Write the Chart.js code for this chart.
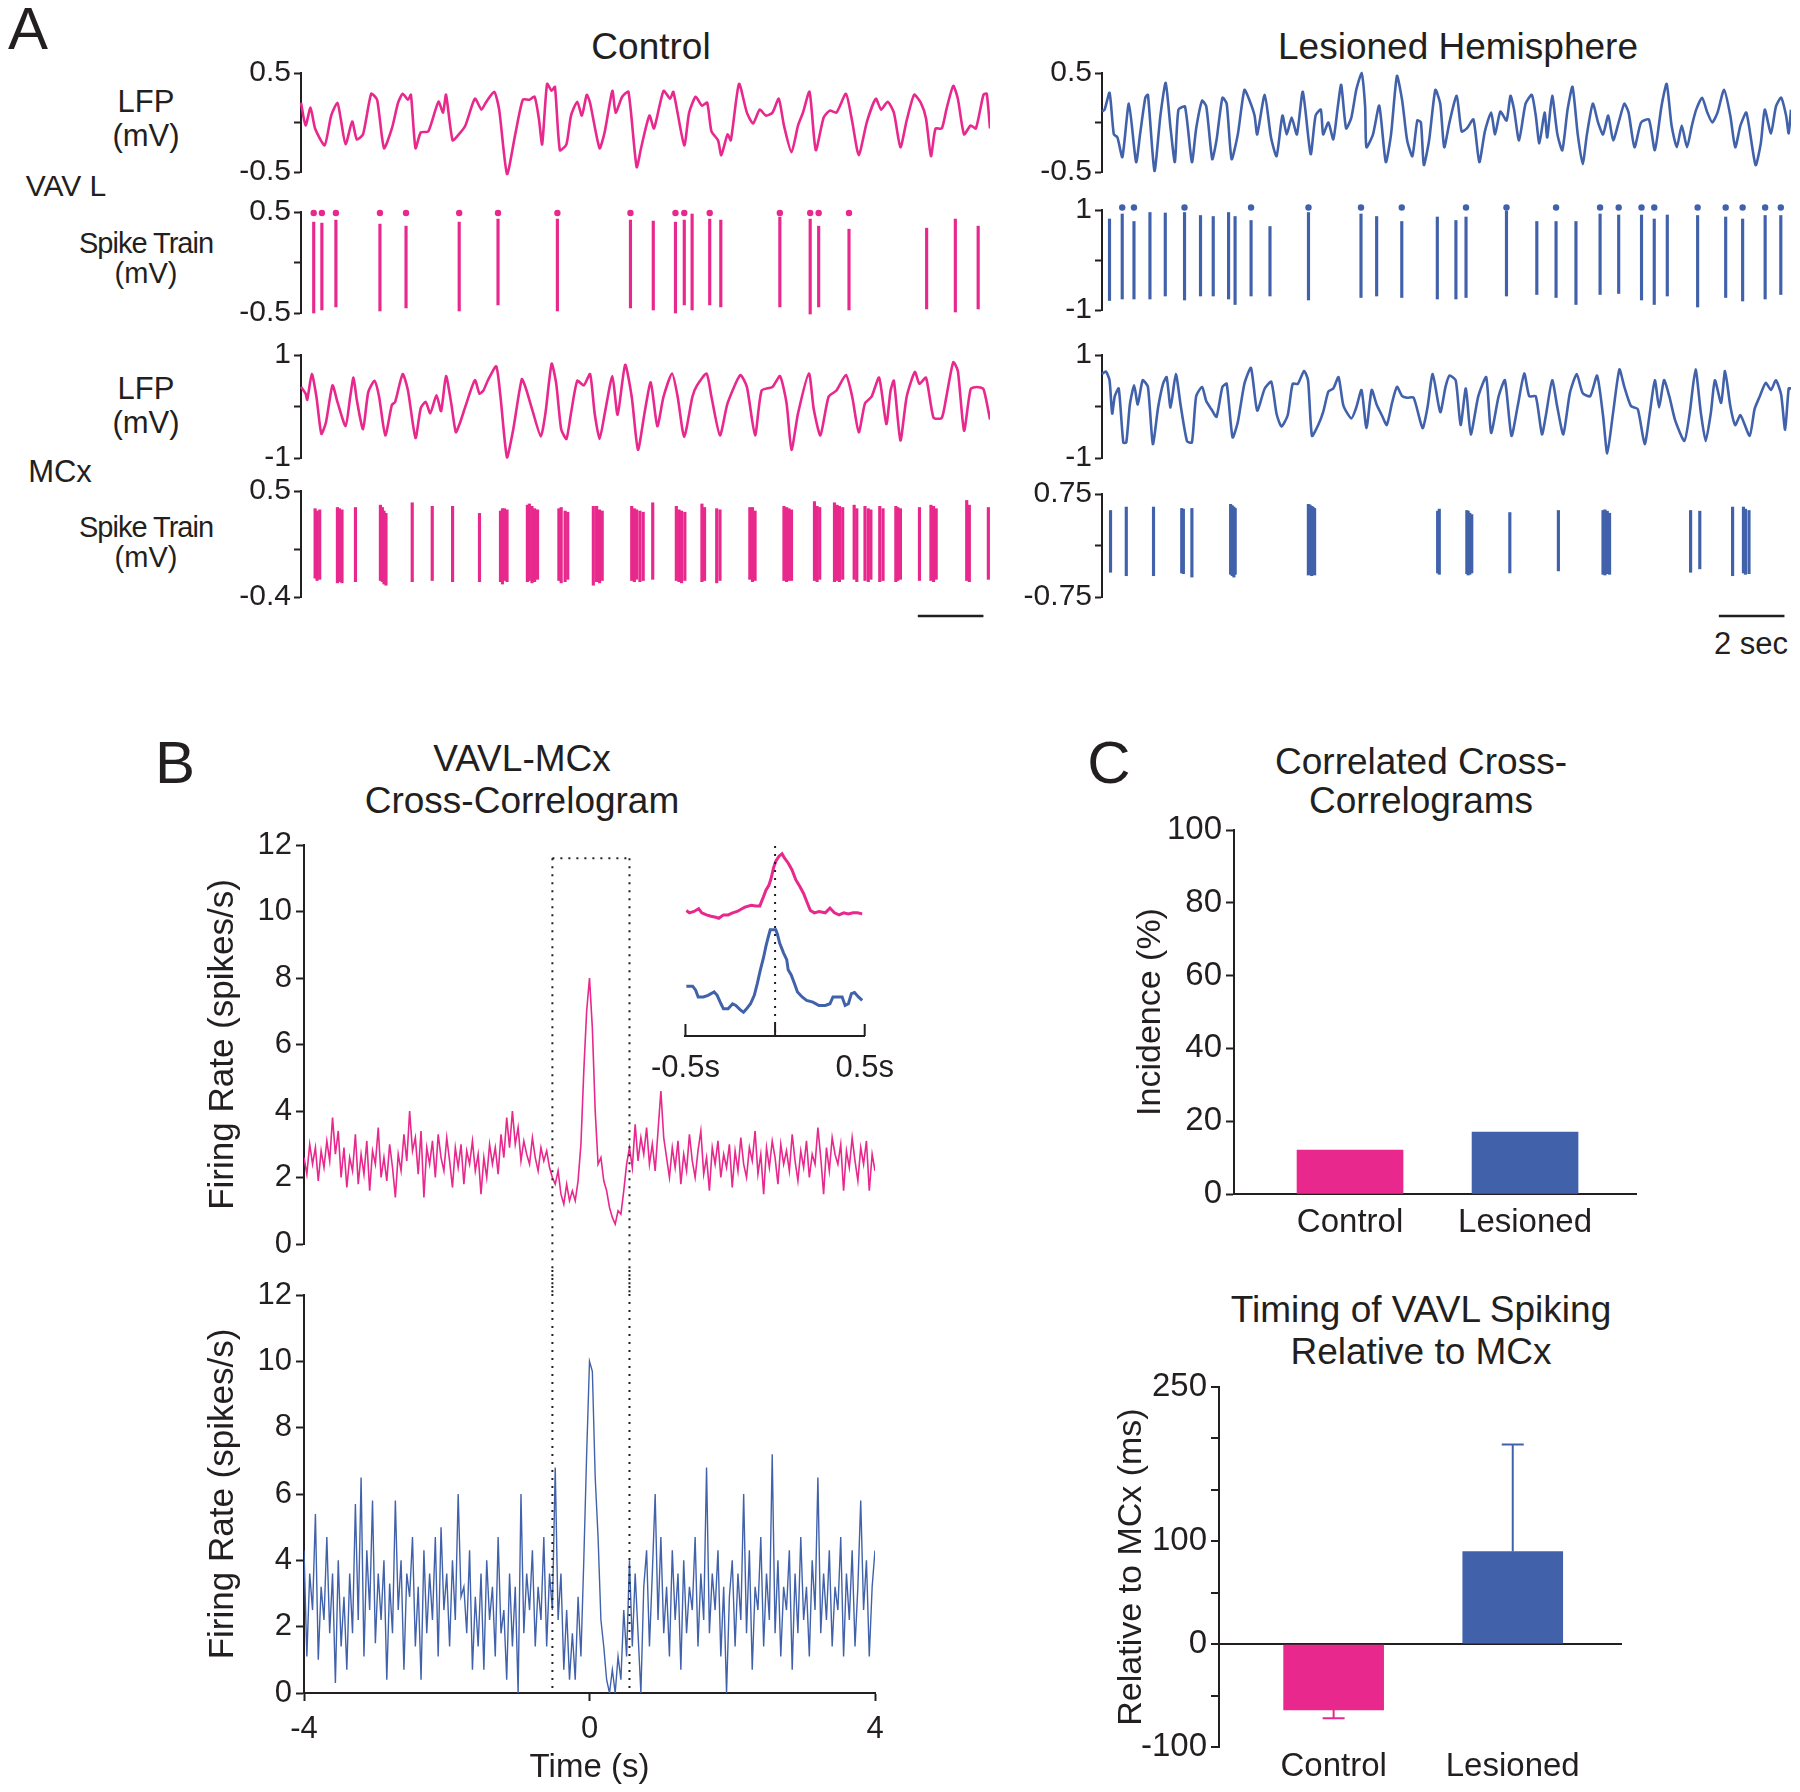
<!DOCTYPE html>
<html>
<head>
<meta charset="utf-8">
<script src="https://cdn.jsdelivr.net/npm/chart.js@4.4.1/dist/chart.umd.min.js"></script>
<style>
body { margin:0; width:1800px; height:1792px; background:#fff; position:relative; overflow:hidden;
       font-family:"Liberation Sans", Arial, sans-serif; color:#231f20; }
.t { position:absolute; transform:translate(-50%,-50%); line-height:1; white-space:nowrap; }
canvas { position:absolute; }
</style>
</head>
<body>
<!-- panel A text -->
<div class="t" style="left:28px;top:29px;font-size:60px">A</div>
<div class="t" style="left:651px;top:46px;font-size:37px">Control</div>
<div class="t" style="left:1458px;top:46px;font-size:37px">Lesioned Hemisphere</div>
<div class="t" style="left:146px;top:101px;font-size:31px">LFP</div>
<div class="t" style="left:146px;top:135px;font-size:31px">(mV)</div>
<div class="t" style="left:66px;top:186px;font-size:30px">VAV L</div>
<div class="t" style="left:146px;top:243px;font-size:29px;letter-spacing:-1px">Spike Train</div>
<div class="t" style="left:146px;top:273px;font-size:29px">(mV)</div>
<div class="t" style="left:146px;top:388px;font-size:31px">LFP</div>
<div class="t" style="left:146px;top:422px;font-size:31px">(mV)</div>
<div class="t" style="left:60px;top:471px;font-size:31px">MCx</div>
<div class="t" style="left:146px;top:527px;font-size:29px;letter-spacing:-1px">Spike Train</div>
<div class="t" style="left:146px;top:557px;font-size:29px">(mV)</div>
<div class="t" style="left:1751px;top:643px;font-size:31px">2 sec</div>
<!-- panel B text -->
<div class="t" style="left:175px;top:763px;font-size:60px">B</div>
<div class="t" style="left:522px;top:758px;font-size:37px">VAVL-MCx</div>
<div class="t" style="left:522px;top:800px;font-size:37px">Cross-Correlogram</div>
<!-- panel C text -->
<div class="t" style="left:1109px;top:763px;font-size:60px">C</div>
<div class="t" style="left:1421px;top:761px;font-size:37px">Correlated Cross-</div>
<div class="t" style="left:1421px;top:800px;font-size:37px">Correlograms</div>
<div class="t" style="left:1421px;top:1309px;font-size:37px">Timing of VAVL Spiking</div>
<div class="t" style="left:1421px;top:1351px;font-size:37px">Relative to MCx</div>

<script>
// ===== DATA =====
// Panel A: traces, [time (s), mV]
const ctlVavlLfp = [[0,0.20],[0.14,-0.03],[0.29,0.15],[0.43,-0.06],[0.72,-0.23],[0.92,0.07],[1.11,0.20],[1.21,0.04],[1.36,-0.22],[1.56,0.01],[1.70,-0.17],[1.89,-0.12],[2.14,0.29],[2.32,0.23],[2.53,-0.26],[2.77,-0.06],[2.96,0.20],[3.10,0.29],[3.26,0.23],[3.35,0.28],[3.49,-0.26],[3.65,-0.10],[3.88,-0.09],[4.19,0.21],[4.33,0.10],[4.42,0.28],[4.62,-0.18],[4.81,-0.12],[5.01,-0.03],[5.30,0.24],[5.50,0.13],[5.63,0.20],[5.89,0.31],[6.04,0.13],[6.28,-0.52],[6.53,-0.12],[6.76,0.23],[6.96,0.23],[7.12,0.26],[7.25,0.04],[7.35,-0.22],[7.50,0.39],[7.64,0.32],[7.74,0.36],[7.89,-0.28],[8.09,-0.22],[8.23,0.07],[8.42,0.21],[8.56,0.07],[8.71,0.28],[8.81,0.20],[9.10,-0.26],[9.26,-0.09],[9.49,0.32],[9.59,0.10],[9.79,0.26],[9.98,0.31],[10.23,-0.45],[10.37,-0.25],[10.62,0.07],[10.76,-0.06],[11.05,0.32],[11.25,0.24],[11.35,0.31],[11.68,-0.23],[11.83,0.10],[12.03,0.26],[12.22,0.17],[12.38,0.20],[12.51,-0.09],[12.71,-0.18],[12.81,-0.33],[13.00,-0.12],[13.10,-0.18],[13.35,0.39],[13.59,0.10],[13.78,-0.01],[13.98,0.13],[14.17,0.07],[14.37,0.10],[14.56,0.24],[14.72,-0.03],[14.95,-0.30],[15.15,-0.03],[15.30,0.10],[15.50,0.31],[15.69,-0.28],[15.93,0.05],[16.12,0.12],[16.32,0.10],[16.61,0.29],[16.80,0.01],[17.00,-0.33],[17.25,0.01],[17.52,0.24],[17.68,0.13],[17.88,0.21],[18.07,0.10],[18.27,-0.25],[18.46,0.02],[18.69,0.28],[18.89,0.20],[19.05,0.04],[19.20,-0.34],[19.34,-0.06],[19.53,-0.06],[19.67,0.13],[19.88,0.37],[20.02,0.24],[20.21,-0.12],[20.41,-0.03],[20.57,-0.06],[20.80,0.28],[20.90,0.29],[21.00,-0.06]];

// spikes: [time, peak, trough]
const ctlVavlSpikes = [[0.39,0.40,-0.50],[0.64,0.39,-0.47],[1.07,0.42,-0.44],[2.42,0.38,-0.48],[3.22,0.36,-0.45],[4.85,0.40,-0.48],[6.04,0.43,-0.42],[7.86,0.43,-0.48],[10.10,0.42,-0.45],[10.80,0.41,-0.47],[11.48,0.40,-0.50],[11.75,0.42,-0.42],[11.99,0.48,-0.47],[12.53,0.43,-0.42],[12.87,0.42,-0.44],[14.68,0.45,-0.44],[15.61,0.43,-0.51],[15.87,0.36,-0.44],[16.80,0.33,-0.47],[19.18,0.34,-0.46],[20.06,0.43,-0.49],[20.76,0.36,-0.46]];
const ctlVavlDots = [0.39,0.64,1.07,2.42,3.22,4.85,6.04,7.86,10.10,11.48,11.75,12.53,14.68,15.61,15.87,16.80];
const ctlDotLevel = 0.49;

const ctlMcxLfp = [[0,0.38],[0.14,0.25],[0.19,0.13],[0.33,0.63],[0.47,0.19],[0.62,-0.53],[0.76,-0.31],[0.96,0.41],[1.11,0.09],[1.36,-0.38],[1.50,0.19],[1.60,0.56],[1.70,0.13],[1.89,-0.44],[2.05,0.28],[2.24,0.50],[2.38,0.19],[2.57,-0.56],[2.77,0.03],[2.87,0.09],[3.10,0.63],[3.26,0.31],[3.49,-0.61],[3.65,-0.03],[3.80,0.09],[3.94,-0.13],[4.13,0.22],[4.27,-0.09],[4.42,0.59],[4.58,0.06],[4.72,-0.50],[4.85,-0.31],[5.01,0],[5.30,0.51],[5.44,0.25],[5.56,0.31],[5.69,0.50],[5.95,0.78],[6.08,0.19],[6.28,-0.99],[6.47,-0.44],[6.73,0.53],[6.86,0.34],[7.06,-0.09],[7.31,-0.58],[7.45,-0.13],[7.64,0.83],[7.78,0.44],[7.93,-0.44],[8.09,-0.63],[8.23,-0.13],[8.42,0.50],[8.62,0.41],[8.81,0.63],[8.95,-0.13],[9.10,-0.63],[9.26,-0.13],[9.49,0.59],[9.65,-0.16],[9.88,0.81],[10.08,0.19],[10.27,-0.84],[10.47,-0.13],[10.66,0.47],[10.86,-0.38],[11.05,0.19],[11.31,0.64],[11.48,0.19],[11.68,-0.59],[11.93,0.19],[12.07,0.41],[12.36,0.64],[12.51,0.19],[12.77,-0.56],[13.00,0.06],[13.39,0.61],[13.59,0.38],[13.84,-0.56],[14.04,0.31],[14.37,0.38],[14.60,0.59],[14.80,0.06],[14.95,-0.84],[15.15,-0.13],[15.48,0.64],[15.63,-0.06],[15.83,-0.56],[16.08,0.19],[16.32,0.31],[16.61,0.61],[16.80,0.19],[17.00,-0.50],[17.19,0.06],[17.39,0.19],[17.62,0.56],[17.84,-0.34],[17.97,0.31],[18.07,0.50],[18.27,-0.66],[18.46,0.19],[18.71,0.67],[18.85,0.44],[19.05,0.56],[19.28,-0.22],[19.53,-0.22],[19.67,0.19],[19.88,0.86],[20.02,0.69],[20.21,-0.47],[20.41,0.34],[20.60,0.38],[20.80,0.34],[21.00,-0.25]];

const ctlMcxSpikes = [[0.43,0.35,-0.24],[0.49,0.33,-0.26],[0.57,0.34,-0.25],[1.11,0.36,-0.28],[1.17,0.35,-0.27],[1.25,0.34,-0.28],[1.66,0.36,-0.27],[2.42,0.38,-0.26],[2.48,0.36,-0.27],[2.53,0.33,-0.29],[2.59,0.31,-0.30],[3.39,0.40,-0.27],[4.00,0.37,-0.26],[4.62,0.37,-0.27],[5.44,0.31,-0.27],[6.08,0.33,-0.27],[6.14,0.35,-0.29],[6.20,0.35,-0.26],[6.28,0.34,-0.27],[6.90,0.38,-0.27],[6.96,0.39,-0.26],[7.04,0.37,-0.28],[7.12,0.35,-0.27],[7.21,0.34,-0.25],[7.86,0.35,-0.26],[7.93,0.36,-0.28],[8.05,0.33,-0.27],[8.13,0.32,-0.25],[8.91,0.37,-0.30],[9.01,0.37,-0.27],[9.10,0.34,-0.28],[9.18,0.33,-0.26],[10.08,0.37,-0.26],[10.16,0.35,-0.27],[10.23,0.34,-0.25],[10.33,0.33,-0.27],[10.43,0.32,-0.26],[10.72,0.40,-0.25],[11.44,0.37,-0.26],[11.52,0.34,-0.27],[11.60,0.33,-0.28],[11.70,0.32,-0.26],[12.22,0.39,-0.27],[12.30,0.36,-0.26],[12.67,0.35,-0.28],[12.77,0.34,-0.26],[13.68,0.36,-0.25],[13.76,0.36,-0.27],[13.84,0.33,-0.26],[14.72,0.37,-0.26],[14.80,0.36,-0.27],[14.87,0.35,-0.26],[14.95,0.34,-0.26],[15.65,0.41,-0.26],[15.73,0.37,-0.27],[15.81,0.36,-0.25],[16.26,0.40,-0.27],[16.34,0.38,-0.26],[16.41,0.37,-0.27],[16.51,0.36,-0.25],[16.86,0.38,-0.25],[16.94,0.35,-0.27],[17.19,0.37,-0.26],[17.29,0.35,-0.27],[17.37,0.34,-0.25],[17.64,0.37,-0.27],[17.74,0.35,-0.26],[18.13,0.37,-0.27],[18.19,0.36,-0.26],[18.27,0.35,-0.25],[18.85,0.36,-0.26],[19.20,0.38,-0.26],[19.28,0.37,-0.27],[19.36,0.35,-0.25],[20.29,0.42,-0.26],[20.37,0.38,-0.27],[20.95,0.36,-0.25]];

const lesVavlLfp = [[0,0.11],[0.08,0.13],[0.23,0.30],[0.36,-0.12],[0.47,-0.15],[0.62,-0.35],[0.82,0.19],[1.04,-0.40],[1.16,-0.12],[1.32,0.25],[1.40,0.28],[1.60,-0.49],[1.78,0.07],[1.94,0.40],[2.09,-0.06],[2.22,-0.40],[2.33,0.13],[2.53,0.16],[2.74,-0.40],[2.87,-0.06],[3.05,0.22],[3.18,0.16],[3.36,-0.37],[3.49,-0.18],[3.67,0.25],[3.80,0.19],[3.95,-0.37],[4.14,-0.12],[4.34,0.33],[4.50,0.22],[4.65,0.07],[4.73,-0.12],[4.96,0.28],[5.15,-0.15],[5.32,-0.34],[5.50,0.07],[5.63,-0.12],[5.78,0.05],[5.94,-0.12],[6.12,0.31],[6.36,-0.32],[6.51,0.07],[6.67,0.13],[6.74,-0.12],[6.90,0.00],[7.05,-0.17],[7.18,0.14],[7.29,0.38],[7.44,-0.06],[7.60,0.05],[7.75,0.33],[7.91,0.50],[8.02,0.16],[8.06,-0.25],[8.26,-0.12],[8.45,0.17],[8.65,-0.40],[8.81,-0.12],[8.99,0.47],[9.15,0.22],[9.30,-0.18],[9.46,-0.34],[9.61,0.02],[9.72,0.00],[9.81,-0.43],[9.97,-0.18],[10.16,0.33],[10.31,0.19],[10.43,-0.25],[10.59,0.00],[10.81,0.27],[10.96,-0.09],[11.12,-0.06],[11.32,0.03],[11.50,-0.40],[11.67,-0.09],[11.86,0.10],[11.98,-0.12],[12.14,0.11],[12.33,0.02],[12.45,0.27],[12.56,0.13],[12.71,-0.18],[12.91,0.19],[13.10,0.28],[13.22,0.07],[13.33,-0.21],[13.49,0.10],[13.57,-0.15],[13.72,0.27],[13.88,-0.12],[14.03,-0.28],[14.19,0.13],[14.34,0.36],[14.50,-0.12],[14.65,-0.42],[14.78,-0.12],[14.96,0.19],[15.12,0.00],[15.27,-0.12],[15.43,0.07],[15.58,-0.18],[15.77,0.03],[15.92,0.19],[16.05,0.10],[16.23,-0.25],[16.43,0.00],[16.67,0.03],[16.85,-0.28],[17.05,0.16],[17.21,0.39],[17.36,-0.03],[17.52,-0.25],[17.67,-0.03],[17.83,-0.25],[17.98,-0.03],[18.11,0.13],[18.29,0.25],[18.45,0.10],[18.60,0.00],[18.76,0.10],[18.96,0.33],[19.15,0.07],[19.30,-0.25],[19.46,-0.03],[19.64,0.10],[19.92,-0.43],[20.08,-0.21],[20.20,0.13],[20.39,-0.11],[20.54,0.16],[20.70,0.25],[20.85,0.07],[20.93,-0.11],[21.00,0.13]];

const lesVavlSpikes = [[0.23,0.82,-0.81],[0.62,0.92,-0.78],[0.98,0.77,-0.78],[1.47,0.95,-0.78],[1.94,0.94,-0.72],[2.53,0.95,-0.80],[3.02,0.89,-0.72],[3.41,0.87,-0.72],[3.88,0.95,-0.78],[4.08,0.87,-0.89],[4.57,0.79,-0.72],[5.15,0.67,-0.72],[6.33,0.95,-0.80],[7.94,0.92,-0.75],[8.42,0.87,-0.72],[9.19,0.77,-0.75],[10.28,0.86,-0.78],[10.85,0.79,-0.78],[11.16,0.86,-0.75],[12.40,0.98,-0.72],[13.33,0.77,-0.69],[13.92,0.77,-0.75],[14.53,0.77,-0.89],[15.27,0.92,-0.69],[15.84,0.90,-0.67],[16.54,0.90,-0.80],[16.93,0.82,-0.89],[17.33,0.90,-0.72],[18.26,0.89,-0.94],[19.12,0.86,-0.75],[19.64,0.82,-0.82],[20.33,0.89,-0.78],[20.81,0.89,-0.69]];
const lesVavlDots = [0.62,0.98,2.53,4.57,6.33,7.94,9.19,11.16,12.40,13.92,15.27,15.84,16.54,16.93,18.26,19.12,19.64,20.33,20.81];
const lesDotLevel = 1.05;

const lesMcxLfp = [[0,0.63],[0.12,0.68],[0.23,0.51],[0.31,-0.14],[0.39,0.20],[0.51,0.35],[0.65,-0.70],[0.74,-0.70],[0.85,0.04],[0.98,0.41],[1.09,0.04],[1.24,0.51],[1.40,0.38],[1.55,-0.73],[1.71,-0.02],[1.86,0.44],[1.97,0.57],[2.09,-0.02],[2.25,0.63],[2.40,0.01],[2.59,-0.67],[2.74,-0.70],[2.87,0.20],[3.05,0.38],[3.18,0.10],[3.33,-0.05],[3.49,-0.20],[3.67,0.38],[3.80,0.44],[3.98,-0.60],[4.14,-0.30],[4.34,0.44],[4.54,0.75],[4.73,-0.08],[4.96,0.35],[5.16,0.48],[5.32,-0.14],[5.47,-0.39],[5.66,-0.17],[5.81,0.44],[5.97,0.44],[6.16,0.69],[6.28,0.51],[6.40,-0.57],[6.59,-0.36],[6.74,-0.11],[6.90,0.29],[7.05,0.35],[7.21,0.57],[7.36,0.01],[7.60,-0.23],[7.75,-0.02],[7.91,0.32],[8.06,-0.42],[8.22,0.32],[8.37,0.04],[8.53,-0.17],[8.68,-0.36],[8.84,0.07],[8.99,0.38],[9.15,0.20],[9.30,0.17],[9.50,0.17],[9.77,-0.42],[9.92,-0.02],[10.08,0.63],[10.31,-0.11],[10.47,0.38],[10.59,0.60],[10.78,0.51],[10.93,-0.36],[11.09,0.35],[11.24,-0.54],[11.47,0.20],[11.71,0.57],[11.86,-0.51],[12.09,0.20],[12.28,0.51],[12.48,-0.57],[12.67,0.01],[12.87,0.64],[13.02,0.20],[13.22,0.20],[13.41,-0.54],[13.53,-0.17],[13.72,0.51],[13.88,-0.02],[14.06,-0.54],[14.26,0.26],[14.47,0.63],[14.65,0.26],[14.88,0.20],[15.09,0.60],[15.27,-0.17],[15.40,-0.91],[15.58,-0.11],[15.77,0.72],[15.92,0.38],[16.12,0.01],[16.33,-0.05],[16.54,-0.73],[16.70,-0.11],[16.85,0.51],[16.98,-0.02],[17.13,0.51],[17.29,0.20],[17.47,-0.27],[17.75,-0.67],[17.91,-0.14],[18.09,0.72],[18.25,-0.11],[18.40,-0.67],[18.56,-0.11],[18.68,0.51],[18.87,0.07],[18.99,0.69],[19.15,0.01],[19.30,-0.36],[19.46,-0.17],[19.74,-0.57],[19.89,-0.05],[20.05,0.20],[20.23,0.46],[20.39,0.32],[20.54,0.51],[20.70,0.23],[20.82,-0.45],[20.93,0.35],[21.00,0.35]];

const lesMcxSpikes = [[0.26,0.51,-0.39],[0.74,0.56,-0.44],[1.57,0.56,-0.44],[2.43,0.54,-0.40],[2.48,0.53,-0.41],[2.74,0.54,-0.46],[3.92,0.60,-0.42],[3.97,0.58,-0.44],[4.02,0.56,-0.46],[4.06,0.54,-0.42],[6.29,0.60,-0.43],[6.34,0.59,-0.42],[6.39,0.57,-0.44],[6.43,0.56,-0.41],[6.48,0.54,-0.43],[10.23,0.50,-0.40],[10.28,0.53,-0.42],[11.12,0.51,-0.41],[11.16,0.50,-0.43],[11.21,0.47,-0.42],[11.27,0.45,-0.40],[12.43,0.48,-0.40],[13.91,0.51,-0.37],[15.27,0.51,-0.42],[15.33,0.52,-0.43],[15.40,0.50,-0.41],[15.47,0.47,-0.42],[17.94,0.51,-0.39],[18.22,0.50,-0.34],[19.22,0.56,-0.44],[19.55,0.56,-0.40],[19.61,0.53,-0.42],[19.72,0.51,-0.41]];

const recordLength = 21;     // s shown in each trace
const scaleBarSec = 2;

// Panel B: cross-correlograms, firing rate (spikes/s) in 40 ms bins from -4 s
const ccgStart = -4, ccgBin = 0.04;
const ctlCcg = [
  2.6,2.1,3.0,2.4,2.9,1.9,2.8,2.3,3.1,2.5,
  3.8,2.7,3.4,2.0,2.9,1.7,2.6,2.2,3.3,1.8,
  2.7,2.1,3.1,1.6,2.8,2.4,3.5,2.0,2.6,1.9,
  3.0,2.3,1.4,2.7,2.2,3.3,2.5,4.0,2.8,3.2,
  2.1,3.4,1.4,2.9,2.4,3.1,2.0,3.3,2.6,2.2,
  3.2,2.5,1.7,2.9,2.3,3.0,1.8,2.8,2.4,3.1,
  2.2,2.7,1.5,2.6,2.0,3.0,2.4,2.9,2.1,3.3,
  2.6,3.8,2.9,4.0,3.0,3.5,2.5,3.1,2.7,2.4,
  3.2,2.6,2.2,2.9,2.5,2.8,2.3,2.0,1.8,2.2,
  1.5,1.2,1.8,1.3,1.6,1.3,1.9,3.0,5.2,7.0,
  8.0,6.5,4.0,2.4,2.6,1.9,1.6,1.1,0.8,0.6,
  1.0,0.9,1.6,2.4,2.9,2.3,3.6,2.5,3.2,2.7,
  3.5,2.4,3.0,2.2,3.4,4.6,3.2,2.6,2.0,2.9,
  2.3,3.1,1.8,2.7,2.2,3.3,2.5,2.0,2.8,3.4,
  2.1,2.6,1.6,2.9,2.4,3.1,2.0,2.7,2.3,3.0,
  1.7,2.8,2.2,3.2,2.4,2.0,2.9,2.5,3.4,2.1,
  2.7,1.5,2.9,2.3,3.1,2.6,1.8,3.0,2.4,2.8,
  2.2,3.3,2.5,1.9,2.8,2.3,3.1,2.0,2.7,2.4,
  3.5,2.6,1.5,2.9,2.2,3.2,2.7,2.4,3.0,1.6,
  2.8,2.3,3.2,2.5,1.9,2.9,2.4,3.1,1.6,2.7,2.2];
const lesCcg = [
  4.3,1.1,3.6,2.5,5.4,1.0,3.2,2.2,4.7,1.8,
  3.6,0.3,4.0,1.4,2.9,0.7,3.6,1.8,5.7,2.2,
  6.5,1.1,4.3,2.5,5.8,1.5,3.6,2.2,4.0,0.4,
  3.3,1.8,5.8,2.5,4.0,0.7,3.6,2.9,4.7,1.4,
  3.2,0.4,4.3,1.8,3.6,2.2,4.7,1.1,5.0,2.5,
  3.6,1.4,4.0,2.2,6.0,2.9,3.2,1.8,4.3,0.7,
  2.9,1.4,3.6,0.7,4.0,2.2,3.2,1.1,4.7,1.8,
  2.5,0.4,3.6,1.4,3.2,0.0,6.0,1.8,3.6,2.5,
  4.3,1.4,3.2,2.2,4.7,1.4,3.6,2.5,6.8,2.2,
  3.6,0.7,2.5,0.4,1.8,0.4,2.9,1.1,4.0,7.2,
  10.0,9.7,6.5,4.7,2.2,1.4,0.4,0.0,0.7,0.0,
  1.1,0.4,2.5,1.1,4.0,1.4,3.6,1.8,0.0,3.2,
  4.3,1.4,3.6,6.0,2.2,4.7,1.8,3.2,1.1,4.3,
  2.2,3.6,0.7,4.0,1.8,3.2,2.5,4.7,1.4,3.6,
  2.2,6.8,1.8,3.6,2.5,4.3,1.1,3.2,0.0,2.9,
  4.0,1.4,3.6,2.2,6.0,1.8,4.3,0.7,3.2,2.5,
  4.7,1.4,3.6,2.2,7.2,1.8,4.0,1.1,3.2,2.5,
  4.3,0.7,3.6,1.8,4.7,2.2,3.2,1.1,4.0,2.5,
  6.5,1.8,3.6,2.2,4.3,1.4,3.2,2.5,4.7,1.1,
  3.6,2.2,4.3,1.4,3.2,5.8,2.5,4.0,1.1,3.2,4.3];
const boxEdges = [-0.52, 0.56];   // s, dotted window
const boxTop = 11.6;

// inset: smoothed correlograms over -0.5..0.5 s, [time, arbitrary units]
const insetCtl = [[-0.495,3.70],[-0.478,3.63],[-0.452,3.67],[-0.426,3.75],[-0.409,3.63],[-0.383,3.57],[-0.357,3.53],[-0.331,3.50],[-0.314,3.47],[-0.288,3.57],[-0.262,3.57],[-0.237,3.63],[-0.211,3.67],[-0.185,3.75],[-0.168,3.80],[-0.133,3.85],[-0.108,3.83],[-0.085,3.83],[-0.078,3.93],[-0.065,4.10],[-0.051,4.30],[-0.034,4.45],[-0.022,4.65],[-0.009,4.95],[0.004,5.15],[0.022,5.30],[0.039,5.37],[0.052,5.25],[0.073,5.10],[0.094,4.90],[0.116,4.60],[0.139,4.40],[0.159,4.20],[0.176,3.97],[0.197,3.70],[0.219,3.63],[0.245,3.67],[0.280,3.63],[0.306,3.77],[0.331,3.63],[0.357,3.57],[0.383,3.63],[0.409,3.60],[0.435,3.63],[0.460,3.63],[0.486,3.60]];
const insetLes = [[-0.495,1.47],[-0.460,1.47],[-0.443,1.35],[-0.429,1.15],[-0.400,1.15],[-0.374,1.20],[-0.340,1.30],[-0.323,1.20],[-0.302,0.95],[-0.288,0.80],[-0.262,0.80],[-0.237,0.95],[-0.219,0.90],[-0.194,0.77],[-0.176,0.70],[-0.159,0.80],[-0.137,0.95],[-0.116,1.20],[-0.099,1.55],[-0.082,1.95],[-0.065,2.30],[-0.051,2.65],[-0.039,2.90],[-0.027,3.13],[0.004,3.13],[0.013,3.00],[0.025,2.75],[0.047,2.45],[0.065,2.25],[0.073,1.95],[0.090,1.80],[0.108,1.55],[0.125,1.30],[0.151,1.15],[0.176,1.05],[0.211,1.00],[0.245,0.90],[0.280,0.90],[0.306,0.95],[0.323,1.15],[0.349,1.15],[0.374,1.15],[0.391,0.90],[0.409,0.95],[0.426,1.25],[0.443,1.28],[0.465,1.15],[0.486,1.05]];

// Panel C
const groups = ['Control', 'Lesioned'];
const incidence = [12.1, 17.0];       // %
const timingMean = [-64, 90];          // ms
const timingSem = [8, 104];

// ===== STYLE =====
const PINK = '#E8288C';
const BLUE = '#4162AB';
const INK = '#231F20';
Chart.defaults.font.family = '"Liberation Sans", Arial, sans-serif';
Chart.defaults.color = INK;
Chart.defaults.animation = false;

function place(id, left, top, width, height) {
    const c = document.createElement('canvas');
    c.id = id;
    c.width = width;
    c.height = height;
    c.style.left = left + 'px';
    c.style.top = top + 'px';
    c.style.width = width + 'px';
    c.style.height = height + 'px';
    document.body.appendChild(c);
    return c.getContext('2d');
}

const pts = arr => arr.map(p => ({ x: p[0], y: p[1] }));

// ===== PANEL A =====
const AXIS_W = 85, PAD = 22, TRACE_W = 689;

function lfpSet(arr, color) {
    return { type: 'line', data: pts(arr), borderColor: color, borderWidth: 2.6,
             pointRadius: 0, tension: 0.2, clip: false };
}
function spikeSet(arr, color) {
    return { type: 'bar', data: arr.map(s => ({ x: s[0], y: [s[2], s[1]] })),
             backgroundColor: color, barThickness: 2.5, grouped: false, clip: false };
}
function dotSet(times, level, color) {
    return { type: 'line', showLine: false, data: times.map(t => ({ x: t, y: level })),
             pointRadius: 3.2, pointBackgroundColor: color, pointBorderWidth: 0, clip: false };
}

const scaleBar = {
    id: 'scaleBar',
    afterDraw(chart) {
        if (!chart.options.plugins.scaleBar.show) return;
        const { ctx, chartArea, scales: { x } } = chart;
        const y = chartArea.bottom + 19;
        ctx.save();
        ctx.strokeStyle = INK;
        ctx.lineWidth = 2.5;
        ctx.beginPath();
        ctx.moveTo(x.getPixelForValue(recordLength - 0.2 - scaleBarSec), y);
        ctx.lineTo(x.getPixelForValue(recordLength - 0.2), y);
        ctx.stroke();
        ctx.restore();
    }
};

function traceChart(id, axisX, yTop, yBottom, yMin, yMax, datasets, withBar) {
    const padBottom = withBar ? 32 : PAD;
    const ctx = place(id, axisX - AXIS_W, yTop - PAD, AXIS_W + TRACE_W, yBottom - yTop + PAD + padBottom);
    return new Chart(ctx, {
        type: 'line',
        data: { datasets },
        options: {
            responsive: false,
            animation: false,
            layout: { padding: { top: PAD, bottom: padBottom, left: 0, right: 0 } },
            plugins: { legend: { display: false }, tooltip: { enabled: false }, scaleBar: { show: !!withBar } },
            scales: {
                x: { type: 'linear', min: 0, max: recordLength, offset: false, display: false },
                y: {
                    min: yMin, max: yMax,
                    afterBuildTicks: s => { s.ticks = [{ value: yMin }, { value: 0 }, { value: yMax }]; },
                    afterFit: s => { s.width = AXIS_W; },
                    ticks: { font: { size: 30 }, color: INK, padding: 3,
                             callback: v => v === 0 ? '' : String(v) },
                    grid: { drawOnChartArea: false, drawTicks: true, tickLength: 7, tickWidth: 2, tickColor: INK },
                    border: { display: true, color: INK, width: 2 }
                }
            }
        },
        plugins: [scaleBar]
    });
}

// left column (Control)
traceChart('a1', 301, 73, 172, -0.5, 0.5, [lfpSet(ctlVavlLfp, PINK)]);
traceChart('a2', 301, 212, 313, -0.5, 0.5, [spikeSet(ctlVavlSpikes, PINK), dotSet(ctlVavlDots, ctlDotLevel, PINK)]);
traceChart('a3', 301, 355, 458, -1, 1, [lfpSet(ctlMcxLfp, PINK)]);
traceChart('a4', 301, 491, 597, -0.4, 0.5, [spikeSet(ctlMcxSpikes, PINK)], true);
// right column (Lesioned)
traceChart('a5', 1102, 73, 172, -0.5, 0.5, [lfpSet(lesVavlLfp, BLUE)]);
traceChart('a6', 1102, 210, 310, -1, 1, [spikeSet(lesVavlSpikes, BLUE), dotSet(lesVavlDots, lesDotLevel, BLUE)]);
traceChart('a7', 1102, 355, 458, -1, 1, [lfpSet(lesMcxLfp, BLUE)]);
traceChart('a8', 1102, 494, 597, -0.75, 0.75, [spikeSet(lesMcxSpikes, BLUE)], true);

// ===== PANEL B =====
const ccgTimes = ctlCcg.map((_, i) => ccgStart + i * ccgBin);
const CCG_AXIS_W = 110, CCG_RIGHT = 30;

function dotted(fromTopValue, toZero) {
    return {
        id: 'dottedBox',
        afterDatasetsDraw(chart) {
            const { ctx, scales: { x, y } } = chart;
            const y0 = fromTopValue != null ? y.getPixelForValue(fromTopValue) : 0;
            const y1 = toZero ? y.getPixelForValue(0) : chart.height;
            ctx.save();
            ctx.strokeStyle = INK;
            ctx.lineWidth = 2;
            ctx.setLineDash([2, 6]);
            boxEdges.forEach(v => {
                const px = x.getPixelForValue(v);
                ctx.beginPath();
                ctx.moveTo(px, y0);
                ctx.lineTo(px, y1);
                ctx.stroke();
            });
            if (fromTopValue != null) {
                ctx.beginPath();
                ctx.moveTo(x.getPixelForValue(boxEdges[0]), y0);
                ctx.lineTo(x.getPixelForValue(boxEdges[1]), y0);
                ctx.stroke();
            }
            ctx.restore();
        }
    };
}

function ccgY() {
    return {
        min: 0, max: 12,
        afterFit: s => { s.width = CCG_AXIS_W; },
        ticks: { stepSize: 2, font: { size: 31 }, color: INK, padding: 4 },
        grid: { drawOnChartArea: false, tickLength: 8, tickWidth: 2, tickColor: INK },
        border: { display: true, color: INK, width: 2 },
        title: { display: true, text: 'Firing Rate (spikes/s)', font: { size: 35 }, color: INK,
                 padding: { top: 8, bottom: 0 } }
    };
}

new Chart(place('ccgTop', 304 - CCG_AXIS_W, 845 - 25, CCG_AXIS_W + 571 + CCG_RIGHT, 25 + 399 + 51), {
    type: 'line',
    data: { datasets: [{ data: ccgTimes.map((t, i) => ({ x: t, y: ctlCcg[i] })), borderColor: PINK,
                         borderWidth: 1.6, pointRadius: 0, tension: 0 }] },
    options: {
        responsive: false, animation: false,
        layout: { padding: { top: 25, bottom: 51, left: 0, right: CCG_RIGHT } },
        plugins: { legend: { display: false }, tooltip: { enabled: false } },
        scales: { x: { type: 'linear', min: -4, max: 4, display: false }, y: ccgY() }
    },
    plugins: [dotted(boxTop, false)]
});

new Chart(place('ccgBottom', 304 - CCG_AXIS_W, 1295 - 25, CCG_AXIS_W + 571 + CCG_RIGHT, 25 + 398 + 95), {
    type: 'line',
    data: { datasets: [{ data: ccgTimes.map((t, i) => ({ x: t, y: lesCcg[i] })), borderColor: BLUE,
                         borderWidth: 1.4, pointRadius: 0, tension: 0 }] },
    options: {
        responsive: false, animation: false,
        layout: { padding: { top: 25, bottom: 0, left: 0, right: CCG_RIGHT } },
        plugins: { legend: { display: false }, tooltip: { enabled: false } },
        scales: {
            x: {
                type: 'linear', min: -4, max: 4,
                afterBuildTicks: s => { s.ticks = [{ value: -4 }, { value: 0 }, { value: 4 }]; },
                afterFit: s => { s.height = 95; },
                ticks: { font: { size: 31 }, color: INK, padding: 10 },
                grid: { drawOnChartArea: false, tickLength: 8, tickWidth: 2, tickColor: INK },
                border: { display: true, color: INK, width: 2 },
                title: { display: true, text: 'Time (s)', font: { size: 33 }, color: INK, padding: { top: 0, bottom: 0 } }
            },
            y: ccgY()
        }
    },
    plugins: [dotted(null, true)]
});

// inset
const insetMarks = {
    id: 'insetMarks',
    afterDatasetsDraw(chart) {
        const { ctx, chartArea, scales: { x } } = chart;
        ctx.save();
        ctx.strokeStyle = INK;
        ctx.lineWidth = 2;
        x.ticks.forEach(t => {
            const px = x.getPixelForValue(t.value);
            ctx.beginPath();
            ctx.moveTo(px, chartArea.bottom);
            ctx.lineTo(px, chartArea.bottom - 12);
            ctx.stroke();
        });
        ctx.setLineDash([2, 6]);
        const p0 = x.getPixelForValue(0);
        ctx.beginPath();
        ctx.moveTo(p0, chartArea.top);
        ctx.lineTo(p0, chartArea.bottom);
        ctx.stroke();
        ctx.restore();
    }
};

new Chart(place('inset', 677 - 40, 846 - 10, 40 + 191 + 40, 10 + 190 + 50), {
    type: 'line',
    data: { datasets: [
        { data: pts(insetCtl), borderColor: PINK, borderWidth: 3, pointRadius: 0, tension: 0 },
        { data: pts(insetLes), borderColor: BLUE, borderWidth: 3, pointRadius: 0, tension: 0 }
    ] },
    options: {
        responsive: false, animation: false,
        layout: { padding: { top: 10, bottom: 0, left: 40, right: 40 } },
        plugins: { legend: { display: false }, tooltip: { enabled: false } },
        scales: {
            x: {
                type: 'linear', min: -0.5, max: 0.5,
                afterBuildTicks: s => { s.ticks = [{ value: -0.5 }, { value: 0 }, { value: 0.5 }]; },
                afterFit: s => { s.height = 50; },
                ticks: { font: { size: 31 }, color: INK, padding: 14, callback: v => v === 0 ? '' : v + 's' },
                grid: { display: false, drawTicks: false },
                border: { display: true, color: INK, width: 2 }
            },
            y: { min: 0, max: 5.6, display: false }
        }
    },
    plugins: [insetMarks]
});

// ===== PANEL C =====
const C_AXIS_W = 120;

function groupX(min, max, height, padding, showBorder) {
    return {
        type: 'linear', min, max, offset: false,
        afterBuildTicks: s => { s.ticks = groups.map((_, i) => ({ value: i })); },
        afterFit: s => { s.height = height; },
        ticks: { font: { size: 33 }, color: INK, padding, callback: v => groups[v] },
        grid: { display: false, drawTicks: false, offset: false },
        border: { display: showBorder, color: INK, width: 2 }
    };
}

new Chart(place('incidence', 1234 - C_AXIS_W, 830 - 25, C_AXIS_W + 402 + 10, 25 + 364 + 60), {
    type: 'bar',
    data: { datasets: [{ data: groups.map((g, i) => ({ x: i, y: incidence[i] })),
                         backgroundColor: [PINK, BLUE], barThickness: 106, grouped: false }] },
    options: {
        responsive: false, animation: false,
        layout: { padding: { top: 25, bottom: 0, left: 0, right: 10 } },
        plugins: { legend: { display: false }, tooltip: { enabled: false } },
        scales: {
            x: groupX(-0.663, 1.634, 60, 9, true),
            y: {
                min: 0, max: 100,
                afterFit: s => { s.width = C_AXIS_W; },
                ticks: { stepSize: 20, font: { size: 33 }, color: INK, padding: 4 },
                grid: { drawOnChartArea: false, tickLength: 8, tickWidth: 2, tickColor: INK },
                border: { display: true, color: INK, width: 2 },
                title: { display: true, text: 'Incidence (%)', font: { size: 34 }, color: INK,
                         padding: { top: 16, bottom: 0 } }
            }
        }
    }
});

const timingLabels = [250, 100, 0, -100];
const errorBars = {
    id: 'errorBars',
    afterDatasetsDraw(chart) {
        const meta = chart.getDatasetMeta(0);
        const y = chart.scales.y;
        const ctx = chart.ctx;
        const colors = [PINK, BLUE];
        ctx.save();
        ctx.lineWidth = 2;
        meta.data.forEach((bar, i) => {
            const m = timingMean[i];
            const end = y.getPixelForValue(m + Math.sign(m) * timingSem[i]);
            ctx.strokeStyle = colors[i];
            ctx.beginPath();
            ctx.moveTo(bar.x, y.getPixelForValue(m));
            ctx.lineTo(bar.x, end);
            ctx.moveTo(bar.x - 11, end);
            ctx.lineTo(bar.x + 11, end);
            ctx.stroke();
        });
        ctx.restore();
    }
};

new Chart(place('timing', 1219 - C_AXIS_W, 1387 - 25, C_AXIS_W + 403 + 10, 25 + 360 + 44), {
    type: 'bar',
    data: { datasets: [{ data: groups.map((g, i) => ({ x: i, y: timingMean[i] })),
                         backgroundColor: [PINK, BLUE], barThickness: 100, grouped: false }] },
    options: {
        responsive: false, animation: false,
        layout: { padding: { top: 25, bottom: 0, left: 0, right: 10 } },
        plugins: { legend: { display: false }, tooltip: { enabled: false } },
        scales: {
            x: groupX(-0.64, 1.61, 44, 0, false),
            y: {
                min: -100, max: 250,
                afterFit: s => { s.width = C_AXIS_W; },
                ticks: { stepSize: 50, font: { size: 33 }, color: INK, padding: 4,
                         callback: v => timingLabels.includes(v) ? String(v) : '' },
                grid: { drawOnChartArea: true, lineWidth: 2, tickLength: 8, tickWidth: 2, tickColor: INK,
                        color: c => (c.tick && c.tick.value === 0) ? INK : 'rgba(0,0,0,0)' },
                border: { display: true, color: INK, width: 2 },
                title: { display: true, text: 'Relative to MCx (ms)', font: { size: 34 }, color: INK,
                         padding: { top: 12, bottom: 0 } }
            }
        }
    },
    plugins: [errorBars]
});
</script>
</body>
</html>
